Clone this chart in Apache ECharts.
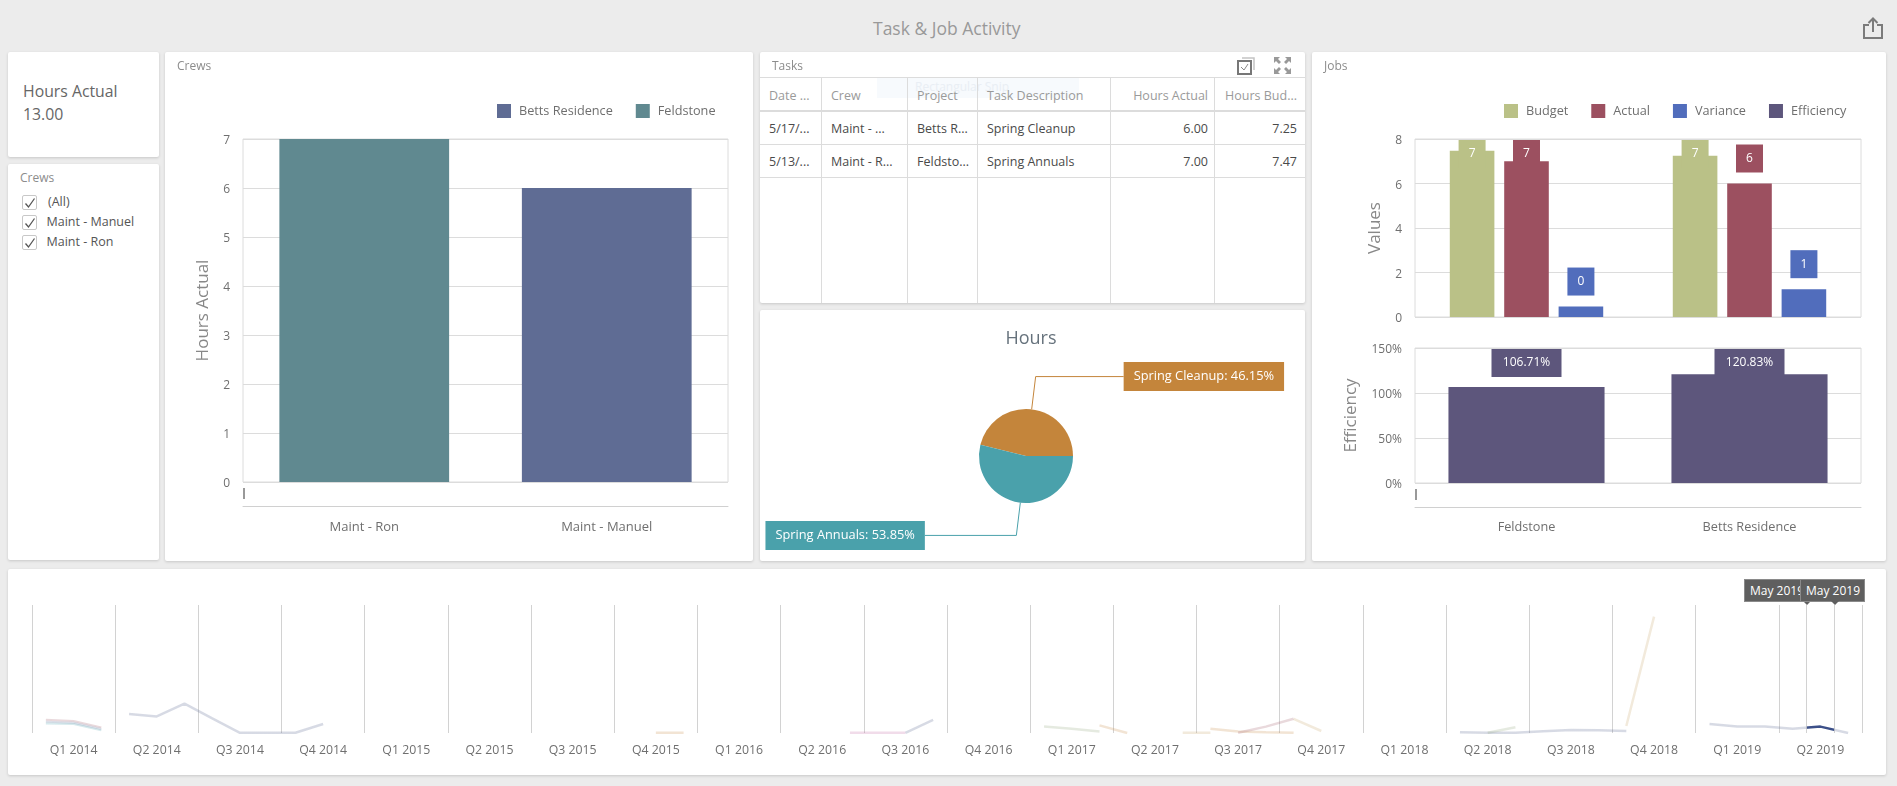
<!DOCTYPE html>
<html>
<head>
<meta charset="utf-8">
<title>Task &amp; Job Activity</title>
<script src="https://cdn.jsdelivr.net/npm/echarts@6/dist/echarts.min.js"></script>
<style>
    html, body { margin: 0; padding: 0; width: 1897px; height: 786px; overflow: hidden; background: #ececec; font-family: "Open Sans", sans-serif; color: #666; }
    .card { position: absolute; background: #fff; border-radius: 2px; box-shadow: 0 1px 3px rgba(0,0,0,0.16); }
    .abs { position: absolute; white-space: nowrap; line-height: 1; }
    .chart { position: absolute; left: 0; top: 0; width: 100%; height: 100%; }
    .cap { font-size: 12px; color: #8c8c8c; }
    .check { position: absolute; left: 14px; width: 13px; height: 13px; border: 1px solid #c8c8c8; border-radius: 2px; }
    .hline, .vline { position: absolute; background: #dcdcdc; }
    .tip { position: absolute; top: 579px; height: 21px; background: #5f5f5f; border: 1px solid #8a8a8a; color: #fff; font-size: 12px; line-height: 21px; overflow: hidden; white-space: nowrap; box-sizing: content-box; }
    .arrow { position: absolute; top: 601px; width: 0; height: 0; border-left: 4px solid transparent; border-right: 4px solid transparent; border-top: 4px solid #5f5f5f; }
</style>
</head>
<body>
<div class="abs" style="left:873px;top:20px;font-size:17.5px;color:#999;">Task &amp; Job Activity</div>
<svg class="abs" style="left:1862px;top:16px;" width="22" height="24" viewBox="0 0 22 24" fill="none" stroke="#7b7b7b" stroke-width="2">
    <path d="M7 9H2V22H20V9H15"/><path d="M11 16V3M6.5 7L11 2.5L15.5 7"/>
</svg>

<div class="card" style="left:8px;top:52px;width:151px;height:105px;">
    <div class="abs" style="left:15px;top:32px;font-size:15.8px;color:#666;">Hours Actual</div>
    <div class="abs" style="left:15px;top:55px;font-size:15.8px;color:#666;">13.00</div>
</div>

<div class="card" id="crew-filter" style="left:8px;top:164px;width:151px;height:396px;">
    <div class="abs cap" style="left:12px;top:8px;">Crews</div>
</div>

<div class="card" style="left:165px;top:52px;width:588px;height:509px;">
    <div id="crews-chart" class="chart"></div>
    <div class="abs cap" style="left:12px;top:8px;">Crews</div>
</div>

<div class="card" id="tasks-card" style="left:760px;top:52px;width:545px;height:251px;overflow:hidden;">
    <div class="abs cap" style="left:12px;top:8px;">Tasks</div>
    <div class="abs" style="left:117px;top:25px;width:202px;height:21px;background:#f7fafd;"></div>
    <div class="abs" style="left:155px;top:29px;font-size:12px;color:#e9eef4;">Rectangular Snip</div>
    <svg class="abs" style="left:477px;top:5px;" width="18" height="18" viewBox="0 0 18 18" fill="none">
        <path d="M5 1H17V13" stroke="#c4c4c4" stroke-width="1.5"/>
        <rect x="1" y="4" width="13" height="13" stroke="#777" stroke-width="2"/>
        <path d="M4 10L7 13L11 7" stroke="#888" stroke-width="1"/>
    </svg>
    <svg class="abs" style="left:514px;top:5px;" width="17" height="17" viewBox="0 0 17 17" fill="#999">
        <path d="M0 0H6L4 2L7 5L5 7L2 4L0 6ZM17 0V6L15 4L12 7L10 5L13 2L11 0ZM0 17V11L2 13L5 10L7 12L4 15L6 17ZM17 17H11L13 15L10 12L12 10L15 13L17 11Z"/>
    </svg>
</div>

<div class="card" style="left:760px;top:310px;width:545px;height:251px;">
    <div id="pie-chart" class="chart"></div>
</div>

<div class="card" style="left:1312px;top:52px;width:574px;height:509px;">
    <div id="jobs-chart" class="chart"></div>
    <div class="abs cap" style="left:12px;top:8px;">Jobs</div>
</div>

<div class="card" style="left:8px;top:569px;width:1878px;height:206px;">
    <div id="timeline-chart" class="chart"></div>
</div>

<div class="tip" style="left:1744px;width:56px;padding-left:5px;">May 2019</div>
<div class="arrow" style="left:1803px;"></div>
<div class="tip" style="left:1800px;width:58px;padding-left:5px;">May 2019</div>
<div class="arrow" style="left:1831px;"></div>

<script>
(function () {
    // figures
    const crewNames = ['Maint - Ron', 'Maint - Manuel'];
    const crewFeldstone = [7, null];
    const crewBetts = [null, 6];

    const projects = ['Feldstone', 'Betts Residence'];
    const budgetValues = [7.47, 7.25];
    const actualValues = [7, 6];
    const varianceValues = [0.47, 1.25];
    const efficiencyValues = [106.71, 120.83];

    const pieNames = ['Spring Cleanup', 'Spring Annuals'];
    const pieValues = [6, 7];
    const pieLeaders = [88, 91.5];

    const filterItems = ['(All)', 'Maint - Manuel', 'Maint - Ron'];

    const taskColumns = ['Date ...', 'Crew', 'Project', 'Task Description', 'Hours Actual', 'Hours Bud...'];
    const taskRows = [
        ['5/17/...', 'Maint - ...', 'Betts R...', 'Spring Cleanup', '6.00', '7.25'],
        ['5/13/...', 'Maint - R...', 'Feldsto...', 'Spring Annuals', '7.00', '7.47']
    ];

    // timeline runs over months, Jan 2014 to Jun 2019
    const months = [];
    for (let y = 2014; y <= 2019; y++) {
        for (let m = 1; m <= (y === 2019 ? 6 : 12); m++) {
            months.push(y + '-' + (m < 10 ? '0' : '') + m);
        }
    }
    const lineBlueA = [['2014-01', 5.6], ['2014-02', 5.1], ['2014-03', 2]];
    const linePinkA = [['2014-01', 6.6], ['2014-02', 6], ['2014-03', 2.8]];
    const lineTealA = [['2014-01', 4.8], ['2014-02', 4.5], ['2014-03', 1.3]];
    const lineBlue = [
        ['2014-04', 9.5], ['2014-05', 8.3], ['2014-06', 14.7], ['2014-07', 7.3], ['2014-08', 0.1], ['2014-09', 0.1], ['2014-10', 0.1], ['2014-11', 4.5],
        ['2016-08', 0.1], ['2016-09', 6.6],
        ['2018-04', 0.4], ['2018-05', 0.1], ['2018-06', 0.1], ['2018-07', 0.9], ['2018-08', 1.5], ['2018-09', 1.4], ['2018-10', 1],
        ['2019-01', 4.5], ['2019-02', 3.3], ['2019-03', 3.3], ['2019-04', 2.1], ['2019-05', 3.2], ['2019-06', 0]
    ];
    const lineOrange = [
        ['2015-11', 0.1], ['2015-12', 0.1],
        ['2017-03', 3.8], ['2017-04', 0],
        ['2017-07', 2.1], ['2017-08', 0.8], ['2017-09', 0.4], ['2017-10', 0.1]
    ];
    const linePink = [['2016-06', 0.1], ['2016-07', 0.1], ['2016-08', 0.1]];
    const lineGreen = [
        ['2017-01', 3.3], ['2017-02', 2.1], ['2017-03', 0.8],
        ['2018-05', 0.1], ['2018-06', 2.9]
    ];
    const lineTan = [
        ['2017-06', 0.1], ['2017-07', 0.1],
        ['2017-10', 7.1], ['2017-11', 1],
        ['2018-10', 3.5], ['2018-11', 58.2]
    ];
    const linePurple = [['2017-08', 0.1], ['2017-09', 3.2], ['2017-10', 7.1]];
    const pickedMonth = '2019-05';

    const FONT = '"Open Sans", sans-serif';
    const TEXT = '#6f6f6f';
    const RULE = '#dcdcdc';
    const BLUE = '#5f6c94', TEAL = '#608990';
    const OLIVE = '#bac187', WINE = '#9c5060', ROYAL = '#516dbc', PLUM = '#5d567c';
    const ORANGE = '#c4853b', PIE_TEAL = '#4aa1ab';

    function fillFilter() {
        const box = document.getElementById('crew-filter');
        filterItems.forEach(function (name, i) {
            const top = 31 + i * 20;
            const row = document.createElement('div');
            row.innerHTML = '<div class="check" style="top:' + top + 'px"></div>' +
                '<svg class="abs" style="left:16px;top:' + (top + 2) + 'px" width="12" height="12" viewBox="0 0 12 12" fill="none" stroke="#555" stroke-width="1.3"><path d="M1.5 6.5L4.5 10L10.5 1.5"/></svg>' +
                '<div class="abs" style="left:' + (i === 0 ? 40 : 38.5) + 'px;top:' + (top + 1) + 'px;font-size:12.5px;color:#555">' + name + '</div>';
            box.appendChild(row);
        });
    }

    function fillTasks() {
        const card = document.getElementById('tasks-card');
        const edges = [61, 147, 217, 350, 454];
        const lefts = [9, 71, 157, 227];
        const rights = [97, 8];
        function add(html) {
            const d = document.createElement('div');
            d.innerHTML = html;
            card.appendChild(d.firstChild);
        }
        edges.forEach(function (x) {
            add('<div class="vline" style="left:' + x + 'px;top:25px;width:1px;height:226px"></div>');
        });
        add('<div class="hline" style="left:0;top:25px;width:545px;height:1px"></div>');
        add('<div class="hline" style="left:0;top:58px;width:545px;height:2px"></div>');
        add('<div class="hline" style="left:0;top:92px;width:545px;height:1px"></div>');
        add('<div class="hline" style="left:0;top:125px;width:545px;height:1px"></div>');
        function cell(text, col, top, color) {
            const pos = col < 4 ? 'left:' + lefts[col] + 'px' : 'right:' + rights[col - 4] + 'px';
            add('<div class="abs" style="' + pos + ';top:' + top + 'px;font-size:12.5px;color:' + color + '">' + text + '</div>');
        }
        taskColumns.forEach(function (text, col) { cell(text, col, 38, '#9a9a9a'); });
        taskRows.forEach(function (row, r) {
            row.forEach(function (text, col) { cell(text, col, 71 + r * 33, '#4a4a4a'); });
        });
    }

    // keep a bar label inside the plot when there is no room above the bar
    function clampLabel(plotTop) {
        return function (params) {
            if (params.labelRect.y < plotTop) {
                return { y: plotTop + 15, verticalAlign: 'middle' };
            }
            return {};
        };
    }

    function axisText(size) {
        return { color: TEXT, fontFamily: FONT, fontSize: size || 12.7 };
    }

    function valueAxis(gridIndex, name, max, interval, nameGap, format) {
        return {
            type: 'value', gridIndex: gridIndex, min: 0, max: max, interval: interval,
            name: name, nameLocation: 'middle', nameGap: nameGap,
            nameTextStyle: { color: '#888', fontFamily: FONT, fontSize: 17 },
            axisLine: { show: false }, axisTick: { show: false },
            // the ticks sit a little below their rules in the original
            axisLabel: Object.assign(axisText(12), {
                margin: 13,
                formatter: format || '{t|{value}}',
                rich: { t: { padding: [4, 0, 0, 0], color: TEXT, fontFamily: FONT, fontSize: 12 } }
            }),
            splitLine: { lineStyle: { color: RULE } }
        };
    }

    function legendText() {
        return Object.assign(axisText(), { padding: [0, 0, 0, 3] });
    }

    function initCrewsChart() {
        const chart = echarts.init(document.getElementById('crews-chart'));
        chart.setOption({
            animation: false,
            legend: {
                left: 327, top: 47, itemWidth: 14, itemHeight: 14, itemGap: 23,
                icon: 'rect', data: ['Betts Residence', 'Feldstone'],
                textStyle: legendText()
            },
            graphic: [{ type: 'rect', left: 78, top: 436, shape: { width: 2, height: 11 }, style: { fill: '#999' } }],
            grid: { left: 78, top: 87, width: 485, height: 343, show: true, borderColor: RULE, backgroundColor: 'transparent' },
            xAxis: {
                type: 'category', data: crewNames, offset: 24,
                axisLine: { onZero: false, lineStyle: { color: '#d0d0d0' } }, axisTick: { show: false },
                axisLabel: Object.assign(axisText(13), { margin: 15 })
            },
            yAxis: valueAxis(0, 'Hours Actual', 7, 1, 31),
            series: [
                { name: 'Betts Residence', type: 'bar', stack: 'crew', barWidth: '70%', itemStyle: { color: BLUE }, data: crewBetts },
                { name: 'Feldstone', type: 'bar', stack: 'crew', barWidth: '70%', itemStyle: { color: TEAL }, data: crewFeldstone }
            ]
        });
        return chart;
    }

    function initPieChart() {
        const chart = echarts.init(document.getElementById('pie-chart'));
        const colors = [ORANGE, PIE_TEAL];
        chart.setOption({
            animation: false,
            title: {
                text: 'Hours', left: 266, top: 15, textAlign: 'center',
                textStyle: { color: '#66727c', fontFamily: FONT, fontSize: 18, fontWeight: 'normal' }
            },
            series: [{
                type: 'pie', center: [266, 146], radius: [0, 47], startAngle: 0, clockwise: false,
                percentPrecision: 2, avoidLabelOverlap: false,
                label: {
                    show: true, position: 'outside', formatter: '{b}: {d}%', color: '#fff',
                    fontFamily: FONT, fontSize: 12.8, padding: [8, 10], distanceToLabelLine: 0
                },
                labelLine: { show: true, length: 33, lineStyle: { width: 1 } },
                data: pieNames.map(function (name, i) {
                    return {
                        name: name, value: pieValues[i],
                        itemStyle: { color: colors[i] },
                        label: { backgroundColor: colors[i] },
                        labelLine: { length2: pieLeaders[i] }
                    };
                })
            }]
        });
        return chart;
    }

    function barLabel(color, width, format) {
        return {
            show: true, position: 'top', distance: 11, color: '#fff',
            fontFamily: FONT, fontSize: 12, backgroundColor: color,
            width: width, height: 28, lineHeight: 28, align: 'center',
            formatter: format
        };
    }

    function roundLabel(params) {
        return String(Math.round(params.value));
    }

    function jobsBar(name, color, values) {
        return {
            name: name, type: 'bar', barWidth: '20%', barGap: '22%',
            itemStyle: { color: color }, label: barLabel(color, 27, roundLabel),
            labelLayout: clampLabel(87), data: values
        };
    }

    function initJobsChart() {
        const chart = echarts.init(document.getElementById('jobs-chart'));
        chart.setOption({
            animation: false,
            legend: {
                left: 187, top: 47, itemWidth: 14, itemHeight: 14, itemGap: 23,
                icon: 'rect', textStyle: legendText(),
                data: ['Budget', 'Actual', 'Variance', 'Efficiency']
            },
            graphic: [{ type: 'rect', left: 103, top: 437, shape: { width: 2, height: 11 }, style: { fill: '#999' } }],
            grid: [
                { left: 103, top: 87, width: 446, height: 178, show: true, borderColor: RULE },
                { left: 103, top: 296, width: 446, height: 135, show: true, borderColor: RULE }
            ],
            xAxis: [
                { type: 'category', gridIndex: 0, data: projects, axisLine: { show: false }, axisTick: { show: false }, axisLabel: { show: false } },
                {
                    type: 'category', gridIndex: 1, data: projects, offset: 24,
                    axisLine: { onZero: false, lineStyle: { color: '#d0d0d0' } }, axisTick: { show: false },
                    axisLabel: Object.assign(axisText(), { margin: 14 })
                }
            ],
            yAxis: [
                valueAxis(0, 'Values', 8, 2, 31),
                valueAxis(1, 'Efficiency', 150, 50, 55, '{t|{value}%}')
            ],
            series: [
                jobsBar('Budget', OLIVE, budgetValues),
                jobsBar('Actual', WINE, actualValues),
                jobsBar('Variance', ROYAL, varianceValues),
                {
                    name: 'Efficiency', type: 'bar', xAxisIndex: 1, yAxisIndex: 1, barWidth: '70%',
                    itemStyle: { color: PLUM },
                    label: barLabel(PLUM, 70, function (p) { return p.value.toFixed(2) + '%'; }),
                    labelLayout: clampLabel(296),
                    data: efficiencyValues
                }
            ]
        });
        return chart;
    }

    function onMonths(points) {
        const lookup = {};
        points.forEach(function (p) { lookup[p[0]] = p[1]; });
        return months.map(function (m) {
            return m in lookup ? lookup[m] : null;
        });
    }

    function quarterLabel(month) {
        const parts = month.split('-');
        return 'Q' + Math.ceil(Number(parts[1]) / 3) + ' ' + parts[0];
    }

    function timelineLine(color, points, width) {
        return {
            type: 'line', symbol: 'none', silent: true, connectNulls: false,
            lineStyle: { color: color, width: width || 2.5, opacity: 0.22 },
            data: onMonths(points)
        };
    }

    // dark only across the selected month's band, pale everywhere else
    function pickedGradient(chart) {
        const i = months.indexOf(pickedMonth);
        const x = chart.convertToPixel({ xAxisIndex: 0 }, i);
        const band = x - chart.convertToPixel({ xAxisIndex: 0 }, i - 1);
        const w = chart.getWidth();
        const from = (x - band / 2) / w, to = (x + band / 2) / w;
        const pale = 'rgba(95,108,148,0.25)', dark = '#3c5089';
        return {
            type: 'linear', x: 0, y: 0, x2: w, y2: 0, global: true,
            colorStops: [
                { offset: 0, color: pale }, { offset: from, color: pale },
                { offset: from, color: dark }, { offset: to, color: dark },
                { offset: to, color: pale }, { offset: 1, color: pale }
            ]
        };
    }

    function initTimelineChart() {
        const chart = echarts.init(document.getElementById('timeline-chart'));
        chart.setOption({
            animation: false,
            grid: { left: 24, top: 36, width: 1830, height: 128 },
            xAxis: {
                type: 'category', data: months, boundaryGap: true,
                axisLine: { show: false }, axisTick: { show: false },
                axisLabel: Object.assign(axisText(12.3), {
                    margin: 11,
                    interval: function (i) { return i % 3 === 1; },
                    formatter: quarterLabel
                }),
                splitLine: {
                    show: true,
                    interval: function (i) { return i % 3 === 0 || i >= 63; },
                    lineStyle: { color: '#d2d2d2' }
                }
            },
            yAxis: { type: 'value', min: 0, max: 64, show: false, splitLine: { show: false } },
            series: [
                timelineLine(WINE, linePinkA, 2),
                timelineLine(BLUE, lineBlueA, 2),
                timelineLine(PIE_TEAL, lineTealA, 2),
                {
                    id: 'main', type: 'line', symbol: 'none', silent: true, connectNulls: false,
                    lineStyle: { width: 2.5, color: BLUE },
                    data: onMonths(lineBlue)
                },
                timelineLine(ORANGE, lineOrange),
                timelineLine('#c060a0', linePink),
                timelineLine('#8aa070', lineGreen),
                timelineLine('#c4a060', lineTan),
                timelineLine(WINE, linePurple)
            ]
        });
        chart.setOption({ series: [{ id: 'main', lineStyle: { color: pickedGradient(chart) } }] });
        return chart;
    }

    document.addEventListener('DOMContentLoaded', function () {
        fillFilter();
        fillTasks();
        initCrewsChart();
        initPieChart();
        initJobsChart();
        initTimelineChart();
    });
})();
</script>
</body>
</html>
